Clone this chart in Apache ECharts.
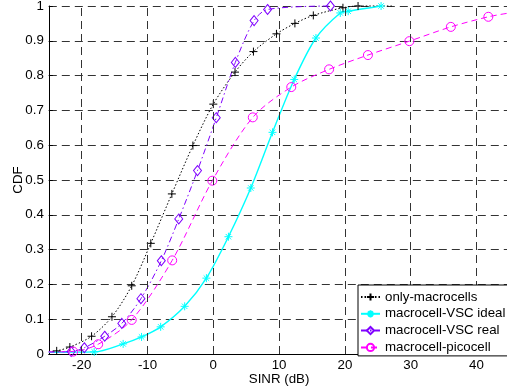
<!DOCTYPE html>
<html>
<head>
<meta charset="utf-8">
<script src="https://cdn.jsdelivr.net/npm/echarts@6/dist/echarts.min.js"></script>
<style>
  html, body { margin: 0; padding: 0; background: #fff; }
  #chart { width: 507px; height: 392px; }
</style>
</head>
<body>
<div id="chart"></div>
<script>
// SINR distribution (CDF) for four deployment scenarios
const xTicks = [-20, -10, 0, 10, 20, 30, 40];
const yTicks = [0, 0.1, 0.2, 0.3, 0.4, 0.5, 0.6, 0.7, 0.8, 0.9, 1];

const seriesNames = ['only-macrocells', 'macrocell-VSC ideal', 'macrocell-VSC real', 'macrocell-picocell'];

// only-macrocells
const macroX = [-25, -23.8, -21.8, -18.5, -15.4, -12.4, -9.5, -6.3, -3.1, 0, 3.3, 6.1, 9.6, 12.4, 15.2, 19.7, 22.0, 27.3];
const macroY = [0.006, 0.009, 0.02, 0.051, 0.107, 0.196, 0.318, 0.46, 0.599, 0.718, 0.81, 0.869, 0.92, 0.95, 0.973, 0.995, 1.0, 1.0];
const macroMarked = [false, true, true, true, true, true, true, true, true, true, true, true, true, true, true, true, true, false];

// macrocell-VSC ideal
const idealX = [-25, -18.1, -13.7, -10.9, -8.0, -4.35, -1.05, 2.3, 5.7, 9.0, 12.3, 15.6, 19.3, 20.5, 25.5];
const idealY = [0.005, 0.006, 0.029, 0.049, 0.078, 0.137, 0.218, 0.337, 0.477, 0.637, 0.789, 0.908, 0.98, 0.985, 1.0];
const idealMarked = [false, true, true, true, true, true, true, true, true, true, true, true, true, true, true];

// macrocell-VSC real
const realX = [-25, -21.6, -19.6, -16.5, -13.9, -11.0, -7.9, -5.25, -2.4, 0.45, 3.35, 6.2, 8.25, 17.8];
const realY = [0.006, 0.007, 0.018, 0.051, 0.088, 0.159, 0.268, 0.388, 0.527, 0.679, 0.838, 0.958, 0.99, 1.0];
const realMarked = [false, true, true, true, true, true, true, true, true, true, true, true, true, true];

// macrocell-picocell
const picoX = [-25, -21.3, -17.5, -12.4, -6.25, -0.15, 6.0, 11.85, 17.6, 23.5, 29.8, 36.1, 41.8, 45];
const picoY = [0.006, 0.007, 0.028, 0.098, 0.269, 0.498, 0.68, 0.767, 0.818, 0.859, 0.899, 0.94, 0.969, 0.98];
const picoMarked = [false, true, true, true, true, true, true, true, true, true, true, true, true, false];

const FONT = 'Liberation Sans';
const FS = 13.3;

const PLUS = 'path://M5,0L5,10M0,5L10,5';
const STAR = 'path://M5,0L5,10M0,5L10,5M1.6,1.6L8.4,8.4M8.4,1.6L1.6,8.4';

function points(xs, ys, marked) {
  return xs.map((x, i) => marked[i] ? [x, ys[i]] : { value: [x, ys[i]], symbol: 'none' });
}

function lineSeries(name, xs, ys, marked, color, dash, width, symbol, size) {
  return {
    name: name,
    type: 'line',
    data: points(xs, ys, marked),
    smooth: 0.3,
    symbol: symbol,
    symbolSize: size,
    showAllSymbol: true,
    clip: false,
    lineStyle: { color: color, width: width, type: dash },
    itemStyle: { color: 'rgba(0,0,0,0)', borderColor: color, borderWidth: 1 },
    emphasis: { disabled: true },
    z: 3
  };
}

const gridDash = { color: '#333', width: 1, type: [8, 5] };

const series = [
  lineSeries(seriesNames[0], macroX, macroY, macroMarked, '#000000', [1.5, 2], 1, PLUS, 8),
  lineSeries(seriesNames[1], idealX, idealY, idealMarked, '#00ffff', 'solid', 1.4, STAR, 8),
  lineSeries(seriesNames[2], realX, realY, realMarked, '#7f00ff', [6, 3, 1.5, 3], 1, 'diamond', [8, 10]),
  lineSeries(seriesNames[3], picoX, picoY, picoMarked, '#ff00ff', [6, 4], 1, 'circle', 9)
];

// vertical grid lines at the labelled SINR values
series.push({
  type: 'line',
  data: [],
  silent: true,
  markLine: {
    silent: true,
    symbol: 'none',
    label: { show: false },
    lineStyle: gridDash,
    emphasis: { disabled: true },
    data: xTicks.map(v => ({ xAxis: v }))
  },
  z: 1
});

const chart = echarts.init(document.getElementById('chart'), null, { renderer: 'canvas' });
chart.setOption({
  animation: false,
  backgroundColor: '#fff',
  textStyle: { fontFamily: FONT },
  grid: { left: 48.8, top: 6, right: -2.4, bottom: 38, containLabel: false, outerBoundsMode: 'none' },
  xAxis: {
    type: 'value',
    min: -25,
    max: 45,
    name: 'SINR (dB)',
    nameLocation: 'middle',
    nameGap: 19,
    nameMoveOverlap: false,
    nameTextStyle: { fontFamily: FONT, fontSize: FS, color: '#000' },
    axisLine: { show: true, onZero: false, lineStyle: { color: '#000', width: 1 } },
    axisTick: { show: true, inside: true, length: 4, customValues: xTicks, lineStyle: { color: '#000' } },
    axisLabel: { customValues: xTicks, margin: 5, fontFamily: FONT, fontSize: FS, color: '#000' },
    splitLine: { show: false }
  },
  yAxis: {
    type: 'value',
    min: 0,
    max: 1,
    interval: 0.1,
    name: 'CDF',
    nameLocation: 'middle',
    nameGap: 24,
    nameMoveOverlap: false,
    nameTextStyle: { fontFamily: FONT, fontSize: FS, color: '#000' },
    axisLine: { show: true, onZero: false, lineStyle: { color: '#000', width: 1 } },
    axisTick: { show: true, inside: true, length: 4, lineStyle: { color: '#000' } },
    axisLabel: {
      margin: 5, fontFamily: FONT, fontSize: FS, color: '#000',
      formatter: v => yTicks.indexOf(Math.round(v * 10) / 10) >= 0 ? String(Math.round(v * 10) / 10) : ''
    },
    splitLine: { show: true, lineStyle: gridDash }
  },
  legend: {
    data: seriesNames,
    orient: 'vertical',
    left: 358,
    top: 285,
    padding: [5, 3, 1.5, 2],
    itemWidth: 19,
    itemHeight: 9,
    itemGap: 2.8,
    backgroundColor: '#fff',
    borderColor: '#000',
    borderWidth: 1,
    borderRadius: 0,
    selectedMode: false,
    textStyle: { fontFamily: FONT, fontSize: FS, color: '#000', lineHeight: 14 },
    z: 10
  },
  series: series
});
</script>
</body>
</html>
